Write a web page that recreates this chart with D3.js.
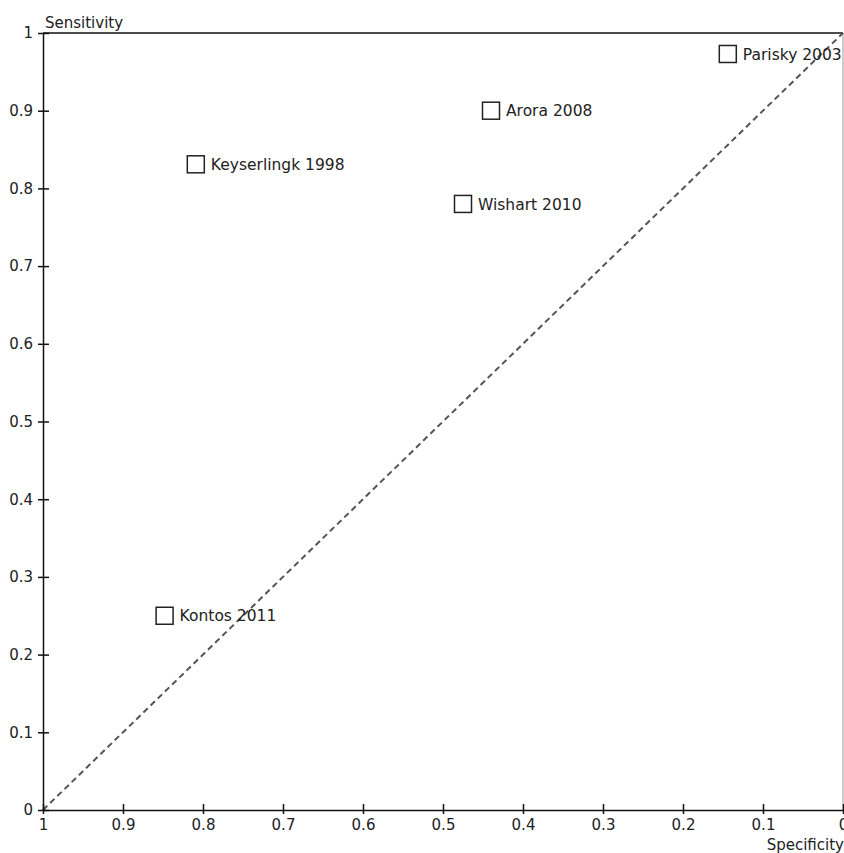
<!DOCTYPE html>
<html>
<head>
<meta charset="utf-8">
<script src="https://cdn.jsdelivr.net/npm/d3@7"></script>
<style>
  body { margin: 0; background: #fff; }
  text { font-family: "DejaVu Sans", sans-serif; fill: #222; }
</style>
</head>
<body>
<script>
const studies = ["Parisky 2003", "Arora 2008", "Keyserlingk 1998", "Wishart 2010", "Kontos 2011"];
const specificity = [0.144, 0.44, 0.809, 0.475, 0.848];
const sensitivity = [0.973, 0.90, 0.831, 0.78, 0.25];
const xTicks = [1, 0.9, 0.8, 0.7, 0.6, 0.5, 0.4, 0.3, 0.2, 0.1, 0];
const yTicks = [0, 0.1, 0.2, 0.3, 0.4, 0.5, 0.6, 0.7, 0.8, 0.9, 1];

const width = 844, height = 853;
const plotL = 43, plotR = 843, plotT = 33, plotB = 810;

const svg = d3.select("body").append("svg")
  .attr("width", width).attr("height", height);

const x = d3.scaleLinear().domain([1, 0]).range([plotL, plotR]);
const y = d3.scaleLinear().domain([0, 1]).range([plotB, plotT]);

// frame top + right
svg.append("line")
  .attr("x1", plotL).attr("x2", plotR).attr("y1", plotT).attr("y2", plotT)
  .attr("stroke", "#111").attr("stroke-width", 1.5);
svg.append("line")
  .attr("x1", plotR).attr("x2", plotR).attr("y1", plotT).attr("y2", plotB)
  .attr("stroke", "#999").attr("stroke-width", 1);

// diagonal
svg.append("line")
  .attr("x1", x(1)).attr("y1", y(0))
  .attr("x2", x(0)).attr("y2", y(1))
  .attr("stroke", "#555").attr("stroke-width", 2)
  .attr("stroke-dasharray", "6,4");

// axes
const xAxis = d3.axisBottom(x).tickValues(xTicks).tickFormat(d3.format("~g"))
  .tickSizeInner(4).tickSizeOuter(0).tickPadding(5);
const gx = svg.append("g").attr("transform", `translate(0,${plotB})`).call(xAxis);
gx.selectAll(".tick line").attr("y1", -6).attr("stroke", "#111").attr("stroke-width", 1.5);
gx.select(".domain").attr("stroke", "#111").attr("stroke-width", 1.5);
gx.selectAll("text").style("font-size", "15px").attr("fill", "#222");

const yAxis = d3.axisLeft(y).tickValues(yTicks).tickFormat(d3.format("~g"))
  .tickSizeInner(5).tickSizeOuter(0).tickPadding(5);
const gy = svg.append("g").attr("transform", `translate(${plotL},0)`).call(yAxis);
gy.selectAll(".tick line").attr("x1", -5).attr("x2", 6).attr("stroke", "#111").attr("stroke-width", 1.5);
gy.select(".domain").attr("stroke", "#111").attr("stroke-width", 1.5);
gy.selectAll("text").style("font-size", "15px").attr("fill", "#222");

svg.append("text").attr("x", plotL + 2).attr("y", 28)
  .style("font-size", "15px").text("Sensitivity");
svg.append("text").attr("x", width).attr("y", 850)
  .attr("text-anchor", "end").style("font-size", "15px").text("Specificity");

// studies
const pts = svg.selectAll(".study")
  .data(studies.map((s, i) => ({name: s, spec: specificity[i], sens: sensitivity[i]})))
  .enter().append("g").attr("class", "study")
  .attr("transform", d => `translate(${x(d.spec)},${y(d.sens)})`);

pts.append("rect")
  .attr("x", -8.5).attr("y", -8.5).attr("width", 17).attr("height", 17)
  .attr("fill", "none").attr("stroke", "#222").attr("stroke-width", 1.5);

pts.append("text")
  .attr("x", 15).attr("dy", "0.36em")
  .style("font-size", "15.5px").text(d => d.name);
</script>
</body>
</html>
